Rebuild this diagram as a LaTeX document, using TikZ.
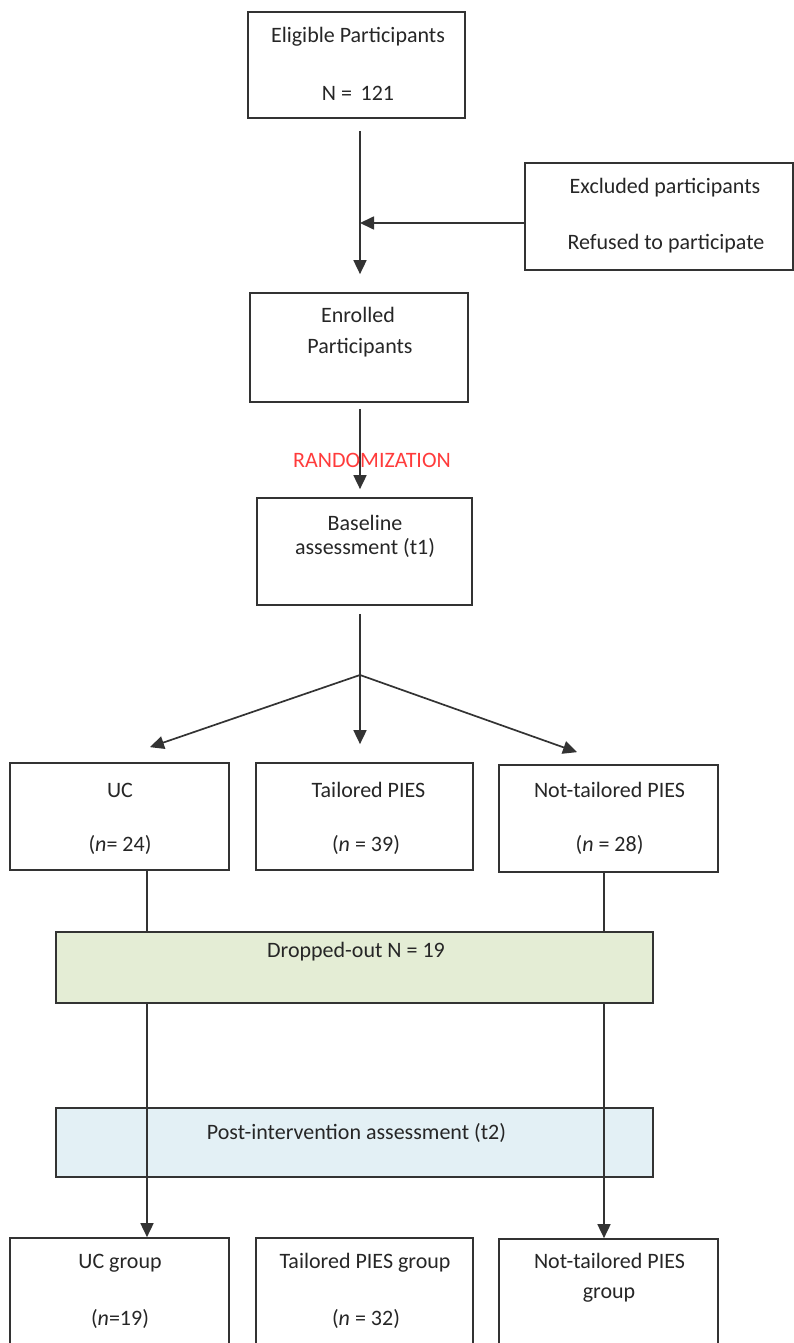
\documentclass[tikz,border=0pt]{standalone}
\usepackage{fontspec}
\setmainfont{Carlito}
\usetikzlibrary{arrows.meta,calc}
\definecolor{linegray}{HTML}{333333}
\definecolor{dropgreen}{HTML}{E4EDD5}
\definecolor{postblue}{HTML}{E3F0F5}
\definecolor{randred}{HTML}{FF3B3B}
\begin{document}
\begin{tikzpicture}[x=1pt,y=-1pt,
  box/.style={draw=linegray, line width=1.7pt, rectangle, inner sep=0pt},
  lbl/.style={font=\fontsize{22}{26}\selectfont, inner sep=0pt, text=black!85},
  arr/.style={draw=linegray, line width=1.7pt, -{Triangle[length=14pt,width=13pt]}},
  ln/.style={draw=linegray, line width=1.7pt}]
\useasboundingbox (0,0) rectangle (794,1343);
\clip (0,0) rectangle (794,1343);
% boxes
\node[box, minimum width=217pt, minimum height=106pt] (elig) at (356.5,65) {};
\node[box, minimum width=268pt, minimum height=107pt] (excl) at (659,216.5) {};
\node[box, minimum width=218pt, minimum height=109pt] (enr) at (359,347.5) {};
\node[box, minimum width=215pt, minimum height=107pt] (base) at (364.5,551.5) {};
\node[box, minimum width=219pt, minimum height=107pt] (uc) at (119.5,816.5) {};
\node[box, minimum width=217pt, minimum height=107pt] (tai) at (364.5,816.5) {};
\node[box, minimum width=219pt, minimum height=107pt] (nt) at (608.5,818.5) {};
\node[box, fill=postblue, minimum width=597pt, minimum height=69pt] (post) at (354.5,1142.5) {};
\node[box, minimum width=219pt, minimum height=162pt] (ucg) at (119.5,1319) {};
\node[box, minimum width=217pt, minimum height=162pt] (taig) at (364.5,1319) {};
\node[box, minimum width=219pt, minimum height=162pt] (ntg) at (608.5,1320) {};
% connectors
\coordinate (sp) at (360,0);
\coordinate (j1) at (360,223);
\coordinate (split) at (360,675);
\draw[arr] ($(elig.south -| sp)+(0,12)$) -- ($(enr.north -| sp)+(0,-18)$);
\draw[arr] (excl.west |- j1) -- (j1);
\draw[arr] ($(enr.south -| sp)+(0,6)$) -- ($(base.north -| sp)+(0,-8)$);
\draw[ln] ($(base.south -| sp)+(0,8)$) -- (split);
\draw[arr] (split) -- ($(uc.north)+(30.5,-15)$);
\draw[arr] (split) -- ($(tai.north -| sp)+(0,-18)$);
\draw[arr] (split) -- ($(nt.north)+(-31.5,-12)$);
\draw[arr] ($(uc.south)+(27.5,0)$) -- ($(ucg.north)+(27.5,0)$);
\draw[arr] ($(nt.south)+(-4.5,0)$) -- ($(ntg.north)+(-4.5,0)$);
\node[box, fill=dropgreen, minimum width=597pt, minimum height=71pt] (drop) at (354.5,967.5) {};
% texts
\node[lbl] (elig1) at (358,37) {Eligible Participants};
\node[lbl] (elig2) at (358,93) {N =\, 121};
\node[lbl] (excl1) at (665,188) {Excluded participants};
\node[lbl] (excl2) at (666,244) {Refused to participate};
\node[lbl] (enr1) at (358,315) {Enrolled};
\node[lbl] (enr2) at (360,348) {Participants};
\node[lbl, text=randred] (rand) at (372,460) {RANDOMIZATION};
\node[lbl] (base1) at (365,523) {Baseline};
\node[lbl] (base2) at (365,548) {assessment (t1)};
\node[lbl] (uc1) at (120,790) {UC};
\node[lbl] (uc2) at (120,845) {(\textit{n}= 24)};
\node[lbl] (tai1) at (368.5,790) {Tailored PIES};
\node[lbl] (tai2) at (366,845) {(\textit{n} = 39)};
\node[lbl] (nt1) at (609.5,790) {Not-tailored PIES};
\node[lbl] (nt2) at (609.5,845) {(\textit{n} = 28)};
\node[lbl] (drop1) at (356,952) {Dropped-out N = 19};
\node[lbl] (post1) at (356.5,1133) {Post-intervention assessment (t2)};
\node[lbl] (ucg1) at (120,1263) {UC group};
\node[lbl] (ucg2) at (120,1319) {(\textit{n}=19)};
\node[lbl] (taig1) at (365,1263) {Tailored PIES group};
\node[lbl] (taig2) at (366,1319) {(\textit{n} = 32)};
\node[lbl] (ntg1) at (609.5,1261) {Not-tailored PIES};
\node[lbl] (ntg2) at (609,1295) {group};
\end{tikzpicture}
\end{document}
